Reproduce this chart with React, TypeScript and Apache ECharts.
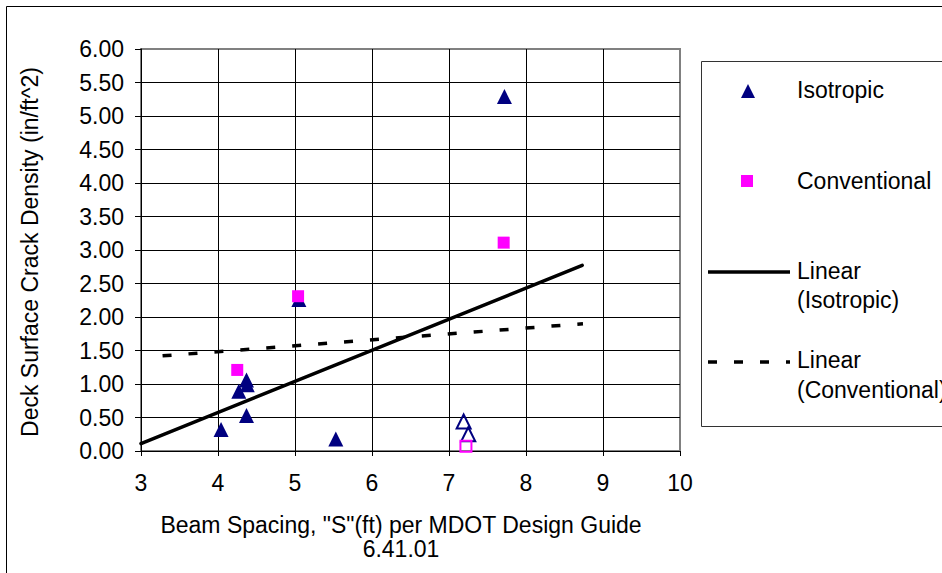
import { useEffect, useRef } from "react";
import * as echarts from "echarts";

// Beam spacing (ft) vs. deck surface crack density (in/ft^2)
const isotropicX = [7.72, 5.05, 4.04, 4.27, 4.37, 4.38, 4.37, 5.53];
const isotropicY = [5.29, 2.26, 0.32, 0.89, 1.06, 0.99, 0.53, 0.18];
const isotropicOpenX = [7.19, 7.25];
const isotropicOpenY = [0.44, 0.25];
const conventionalX = [7.71, 5.04, 4.25];
const conventionalY = [3.11, 2.31, 1.21];
const conventionalOpenX = [7.22];
const conventionalOpenY = [0.07];

// Linear trend lines (end points)
const isotropicTrendX = [3, 8.73];
const isotropicTrendY = [0.11, 2.77];
const conventionalTrendX = [3.28, 8.74];
const conventionalTrendY = [1.42, 1.9];

const xMin = 3;
const xMax = 10;
const yMin = 0;
const yMax = 6;
const yStep = 0.5;

const legendNames = ["Isotropic", "Conventional", "Linear\n(Isotropic)", "Linear\n(Conventional)"];
const xTitle = 'Beam Spacing, "S"(ft) per MDOT Design Guide\n6.41.01';
const yTitle = "Deck Surface Crack Density (in/ft^2)";

const NAVY = "#000080";
const MAGENTA = "#FF00FF";
const FONT = "'Liberation Sans', Arial, sans-serif";
const FS = 23;

const pairs = (xs: number[], ys: number[]) => xs.map((x, i) => [x, ys[i]]);

export default function App() {
  const ref = useRef<HTMLDivElement>(null);

  useEffect(() => {
    if (!ref.current) return;
    const chart = echarts.init(ref.current, undefined, { renderer: "svg" });

    const legendText = (text: string, y: number) => ({
      type: "text",
      x: 797,
      y,
      style: { text, fill: "#000", font: `${FS}px ${FONT}`, verticalAlign: "middle", lineHeight: 29 },
    });

    chart.setOption({
      animation: false,
      backgroundColor: "#fff",
      grid: {
        left: 141,
        right: 262,
        top: 49,
        bottom: 122,
        show: true,
        borderColor: "#808080",
        borderWidth: 2,
        backgroundColor: "transparent",
        outerBoundsMode: "none",
      },
      xAxis: {
        type: "value",
        min: xMin,
        max: xMax,
        interval: 1,
        axisLine: { lineStyle: { color: "#000", width: 1 } },
        axisTick: { show: true, inside: false, length: 5, lineStyle: { color: "#000" } },
        axisLabel: { color: "#000", fontSize: FS, fontFamily: FONT, margin: 20 },
        splitLine: { show: true, showMaxLine: false, lineStyle: { color: "#000", width: 1 } },
      },
      yAxis: {
        type: "value",
        min: yMin,
        max: yMax,
        interval: yStep,
        axisLine: { show: true, lineStyle: { color: "#000", width: 1 } },
        axisTick: { show: true, inside: false, length: 6, lineStyle: { color: "#000" } },
        axisLabel: {
          color: "#000",
          fontSize: FS,
          fontFamily: FONT,
          margin: 17,
          formatter: (v: number) => v.toFixed(2),
        },
        splitLine: { show: true, showMaxLine: false, lineStyle: { color: "#000", width: 1 } },
      },
      series: [
        {
          name: legendNames[2],
          type: "line",
          data: pairs(isotropicTrendX, isotropicTrendY),
          symbol: "none",
          lineStyle: { color: "#000", width: 3.5, cap: "round" },
          z: 3,
        },
        {
          name: legendNames[3],
          type: "line",
          data: pairs(conventionalTrendX, conventionalTrendY),
          symbol: "none",
          lineStyle: { color: "#000", width: 3.5, type: [9, 17] },
          z: 3,
        },
        {
          name: legendNames[0],
          type: "scatter",
          data: pairs(isotropicX, isotropicY),
          symbol: "triangle",
          symbolSize: 15,
          itemStyle: { color: NAVY, opacity: 1 },
          z: 4,
        },
        {
          name: legendNames[0] + " (open)",
          type: "scatter",
          data: pairs(isotropicOpenX, isotropicOpenY),
          symbol: "triangle",
          symbolSize: 14,
          itemStyle: { color: "transparent", borderColor: NAVY, borderWidth: 2, opacity: 1 },
          z: 4,
        },
        {
          name: legendNames[1],
          type: "scatter",
          data: pairs(conventionalX, conventionalY),
          symbol: "rect",
          symbolSize: 12,
          itemStyle: { color: MAGENTA, opacity: 1 },
          z: 5,
        },
        {
          name: legendNames[1] + " (open)",
          type: "scatter",
          data: pairs(conventionalOpenX, conventionalOpenY),
          symbol: "rect",
          symbolSize: 11,
          itemStyle: { color: "transparent", borderColor: MAGENTA, borderWidth: 2, opacity: 1 },
          z: 5,
        },
      ],
      graphic: [
        // chart area frame
        {
          type: "rect",
          shape: { x: 6.5, y: 6.5, width: 1000, height: 1000 },
          style: { fill: "none", stroke: "#000", lineWidth: 1 },
          silent: true,
        },
        // axis titles
        {
          type: "text",
          x: 30,
          y: 252,
          rotation: Math.PI / 2,
          style: {
            text: yTitle,
            fill: "#000",
            font: `${FS}px ${FONT}`,
            align: "center",
            verticalAlign: "middle",
          },
        },
        {
          type: "text",
          x: 401,
          y: 537,
          style: {
            text: xTitle,
            fill: "#000",
            font: `${FS}px ${FONT}`,
            align: "center",
            verticalAlign: "middle",
            lineHeight: 24,
          },
        },
        // legend box
        {
          type: "rect",
          shape: { x: 701.5, y: 61.5, width: 400, height: 365 },
          style: { fill: "#fff", stroke: "#333", lineWidth: 1 },
          silent: true,
        },
        {
          type: "polygon",
          shape: { points: [[748, 84], [741, 98], [755, 98]] },
          style: { fill: NAVY },
        },
        legendText(legendNames[0], 90),
        {
          type: "rect",
          shape: { x: 741, y: 175, width: 12, height: 12 },
          style: { fill: MAGENTA },
        },
        legendText(legendNames[1], 181),
        {
          type: "line",
          shape: { x1: 708, y1: 272, x2: 790, y2: 272 },
          style: { stroke: "#000", lineWidth: 3.5 },
        },
        legendText("Linear", 271),
        legendText("(Isotropic)", 300),
        {
          type: "line",
          shape: { x1: 708, y1: 362, x2: 790, y2: 362 },
          style: { stroke: "#000", lineWidth: 3.5, lineDash: [9, 17] },
        },
        legendText("Linear", 360),
        legendText("(Conventional)", 390),
      ],
    });

    return () => chart.dispose();
  }, []);

  return (
    <div
      ref={ref}
      style={{ position: "fixed", left: 0, top: 0, width: 942, height: 573, background: "#fff" }}
    />
  );
}
